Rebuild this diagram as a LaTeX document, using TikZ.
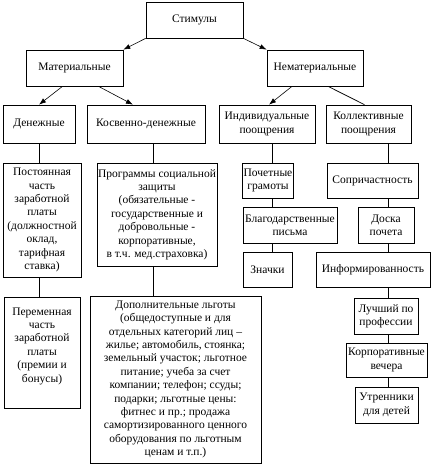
\documentclass[tikz,border=0pt]{standalone}
\usepackage{fontspec}
\setmainfont{Liberation Serif}
\usetikzlibrary{arrows.meta}

\begin{document}
\begin{tikzpicture}[x=1pt, y=-1pt, font=\fontsize{11.5}{13.4}\selectfont,
  box/.style={draw, line width=0.7pt, align=center, inner sep=1pt},
  arr/.style={-{Latex[length=7pt,width=5pt]}, line width=0.6pt},
  link/.style={line width=0.7pt}]
\useasboundingbox (0,0) rectangle (436,466);
% ---- top: stimuli and the two kinds ----
\node[box, minimum width=97pt, minimum height=36pt] (stim) at (194.5,20) {Стимулы};
\node[box, minimum width=97pt, minimum height=36pt] (mat) at (74.5,68) {Материальные};
\node[box, minimum width=96pt, minimum height=36pt] (nemat) at (315,68) {Нематериальные};
% ---- second row ----
\node[box, minimum width=72pt, minimum height=38pt] (den) at (39,124) {Денежные};
\node[box, minimum width=118pt, minimum height=38pt] (kosv) at (146,124) {Косвенно-денежные};
\node[box, minimum width=96pt, minimum height=38pt] (indiv) at (267,124) {Индивидуальные\\поощрения};
\node[box, minimum width=85pt, minimum height=38pt] (koll) at (368.5,124) {Коллективные\\поощрения};
% ---- material columns ----
\node[box, minimum width=78pt, minimum height=114pt] (post) at (42,220)
  {Постоянная\\часть\\заработной\\платы\\(должностной\\оклад,\\тарифная\\ставка)};
\node[box, minimum width=76pt, minimum height=111pt] (perem) at (42,352.5)
  {Переменная\\часть\\заработной\\платы\\(премии и\\бонусы)\\[2pt]\mbox{}};
\node[box, minimum width=118pt, minimum height=103pt] (prog) at (157,214.5)
  {Программы социальной\\защиты\\(обязательные -\\государственные и\\добровольные -\\корпоративные,\\в т.ч. мед.страховка)};
\node[box, minimum width=171pt, minimum height=167pt] (dop) at (175.5,379.5)
  {Дополнительные льготы\\(общедоступные и для\\отдельных категорий лиц –\\жилье; автомобиль, стоянка;\\земельный участок; льготное\\питание; учеба за счет\\компании; телефон; ссуды;\\подарки; льготные цены:\\фитнес и пр.; продажа\\самортизированного ценного\\оборудования по льготным\\ценам и т.п.)};
% ---- individual column ----
\node[box, minimum width=50pt, minimum height=35pt] (poch) at (268,180.5) {Почетные\\грамоты};
\node[box, minimum width=94pt, minimum height=36pt] (blag) at (290,225) {Благодарственные\\письма};
\node[box, minimum width=49pt, minimum height=35pt] (znach) at (267.5,269.5) {Значки};
% ---- collective column ----
\node[box, minimum width=91pt, minimum height=35pt] (sopr) at (372.5,180.5) {Сопричастность};
\node[box, minimum width=56pt, minimum height=36pt] (doska) at (386,225) {Доска\\почета};
\node[box, minimum width=114pt, minimum height=35pt] (inform) at (373,269.5) {Информированность};
\node[box, minimum width=64pt, minimum height=36pt] (luch) at (386,316) {Лучший по\\профессии};
\node[box, minimum width=81pt, minimum height=34pt] (korp) at (386.5,360) {Корпоративные\\вечера};
\node[box, minimum width=63pt, minimum height=36pt] (utr) at (386.5,405) {Утренники\\для детей};
% ---- column lines ----
\coordinate (colA) at (39,0);
\coordinate (colB) at (153,0);
\coordinate (colC) at (272,0);
\coordinate (colD) at (388,0);
% ---- arrows ----
\draw[arr] (stim.south west) -- (mat.north east);
\draw[arr] (stim.south east) -- (nemat.north west);
\draw[arr] ([xshift=-12pt]mat.south) -- (den.north);
\draw[arr] ([xshift=24pt]mat.south) -- ([xshift=-13pt]kosv.north);
\draw[arr] ([xshift=-23pt]nemat.south) -- ([xshift=2pt]indiv.north);
\draw[link] ([xshift=13pt]nemat.south) -- ([xshift=-4pt]koll.north);
% ---- vertical links ----
\draw[link] (den.south -| colA) -- (post.north -| colA);
\draw[link] (post.south -| colA) -- (perem.north -| colA);
\draw[link] (kosv.south -| colB) -- (prog.north -| colB);
\draw[link] (prog.south -| colB) -- (dop.north -| colB);
\draw[link] (indiv.south -| colC) -- (poch.north -| colC);
\draw[link] (poch.south -| colC) -- (blag.north -| colC);
\draw[link] (blag.south -| colC) -- (znach.north -| colC);
\draw[link] (koll.south -| colD) -- (sopr.north -| colD);
\draw[link] (sopr.south -| colD) -- (doska.north -| colD);
\draw[link] (doska.south -| colD) -- (inform.north -| colD);
\draw[link] (inform.south -| colD) -- (luch.north -| colD);
\draw[link] (luch.south -| colD) -- (korp.north -| colD);
\draw[link] (korp.south -| colD) -- (utr.north -| colD);
\end{tikzpicture}
\end{document}
